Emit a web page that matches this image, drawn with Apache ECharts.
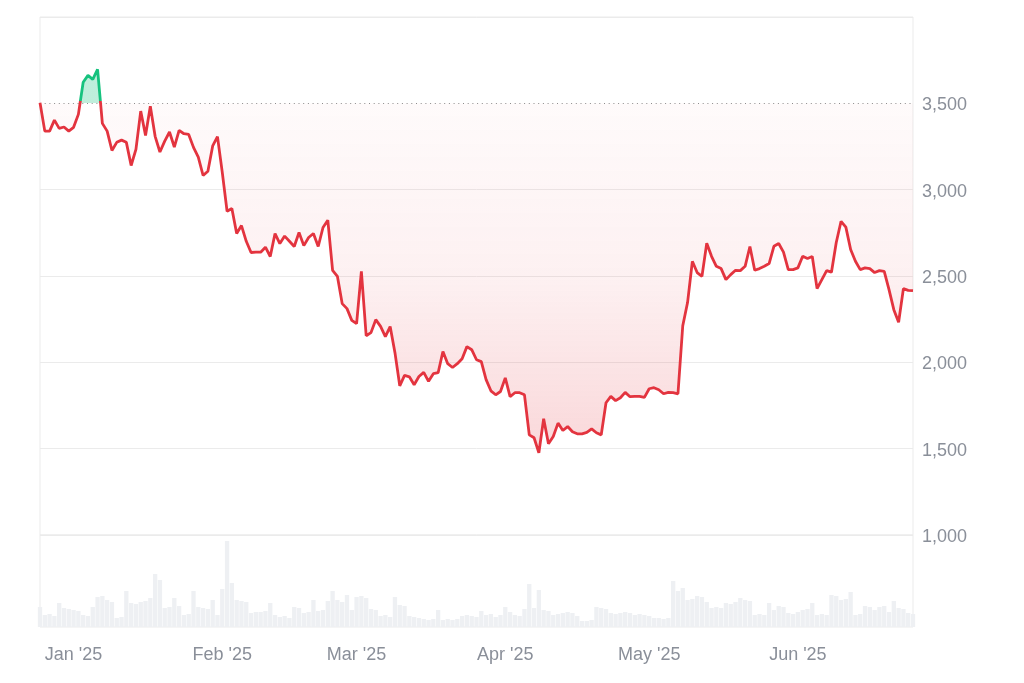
<!DOCTYPE html>
<html><head><meta charset="utf-8">
<script src="https://cdn.jsdelivr.net/npm/echarts@6/dist/echarts.min.js"></script>
<style>html,body{margin:0;padding:0;background:#fff}#c{width:1024px;height:683px}</style>
</head><body><div id="c"></div>
<script>
// Daily ETH price (USD), 2024-12-25 .. 2025-06-25
const prices = [
  3504, 3339, 3339, 3403, 3355, 3363, 3339,
  3361, 3436, 3622, 3662, 3639, 3697, 3384, 3339, 3227, 3274, 3287, 3274, 3140, 3233, 3455, 3314,
  3483, 3309, 3218, 3281, 3334, 3247, 3343, 3324, 3320, 3245, 3189, 3082, 3107, 3253, 3307,
  3100, 2875, 2891, 2746, 2792, 2701, 2636, 2638, 2638, 2667, 2613, 2746, 2688, 2731, 2701, 2671,
  2752, 2676, 2723, 2746, 2671, 2781, 2823, 2532, 2498, 2340, 2311, 2243,
  2224, 2527, 2154, 2172, 2247, 2208, 2149, 2207, 2056, 1864, 1924, 1916, 1870, 1918, 1942, 1890,
  1934, 1940, 2063, 1992, 1970, 1992, 2021, 2091, 2073, 2015, 2004, 1900, 1835, 1812, 1831,
  1910, 1801, 1824, 1824, 1812, 1580, 1563, 1476, 1673, 1528, 1570, 1648, 1605, 1628, 1598, 1586,
  1586, 1594, 1615, 1592, 1580, 1766, 1803, 1778, 1795, 1826, 1801, 1803, 1803, 1797,
  1847, 1853, 1841, 1818, 1826, 1824, 1818, 2212, 2346, 2585, 2520, 2498, 2690, 2614, 2556, 2543,
  2479, 2508, 2533, 2531, 2556, 2671, 2533, 2543, 2556, 2572, 2672, 2688, 2638, 2537, 2537,
  2547, 2614, 2601, 2613, 2427, 2479, 2531, 2522, 2694, 2817, 2783, 2653, 2585, 2537, 2547, 2543,
  2520, 2531, 2527, 2421, 2305, 2232, 2427, 2417, 2415
];
// Daily trading volume (billions USD, estimated)
const volumes = [
  20, 12, 13, 11, 24, 19, 18, 17, 16, 12,
  11, 20, 30, 31, 27, 25, 9, 10, 36, 24,
  23, 25, 26, 29, 53, 47, 19, 20, 29, 21,
  12, 13, 36, 20, 19, 18, 27, 12, 38, 86,
  44, 27, 26, 25, 14, 15, 15, 16, 24, 12,
  10, 11, 9, 20, 19, 14, 15, 27, 16, 17,
  26, 36, 27, 25, 32, 17, 30, 31, 29, 18,
  17, 11, 12, 10, 30, 22, 21, 11, 10, 9,
  8, 7, 8, 17, 7, 8, 7, 8, 11, 12,
  11, 10, 16, 12, 13, 10, 12, 20, 15, 12,
  11, 18, 43, 19, 37, 17, 16, 12, 13, 14,
  15, 14, 11, 6, 6, 7, 20, 19, 18, 14,
  13, 14, 15, 14, 12, 13, 12, 11, 9, 9,
  8, 9, 46, 36, 39, 27, 28, 31, 30, 25,
  19, 20, 19, 24, 23, 25, 29, 27, 26, 12,
  13, 12, 24, 17, 21, 20, 14, 13, 15, 17,
  18, 24, 12, 13, 12, 32, 31, 27, 28, 35,
  12, 13, 21, 20, 17, 20, 21, 15, 26, 19,
  18, 14, 13
];
const baseline = 3500;
const priceTicks = [1000, 1500, 2000, 2500, 3000, 3500];
const monthTicks = ['2025-01-01', '2025-02-01', '2025-03-01', '2025-04-01', '2025-05-01', '2025-06-01'];
const monthLabels = ["Jan '25", "Feb '25", "Mar '25", "Apr '25", "May '25", "Jun '25"];

const dates = [];
(function () {
  const d = new Date(Date.UTC(2024, 11, 25));
  for (let i = 0; i < prices.length; i++) {
    dates.push(d.toISOString().slice(0, 10));
    d.setUTCDate(d.getUTCDate() + 1);
  }
})();

const pMax = Math.max(...prices), pMin = Math.min(...prices);
const f = (pMax - baseline) / (pMax - pMin);
const RED = '#e3343f', GREEN = '#16c27e';
const FONT = '"Liberation Sans", Arial, sans-serif';
const LABEL = '#8a8f99';
const GRIDC = '#ebebeb';

const chart = echarts.init(document.getElementById('c'), null, { renderer: 'canvas' });
chart.setOption({
  animation: false,
  grid: [
    { left: 40, right: 111, top: 17, height: 518, show: true, borderColor: GRIDC, borderWidth: 1 },
    { left: 40, right: 111, top: 535, height: 92, show: true, borderColor: GRIDC, borderWidth: 1 }
  ],
  xAxis: [
    { type: 'category', gridIndex: 0, data: dates, boundaryGap: false, show: false },
    {
      type: 'category', gridIndex: 1, data: dates, boundaryGap: false,
      axisLine: { show: false }, axisTick: { show: false }, splitLine: { show: false },
      axisLabel: {
        interval: (i, v) => monthTicks.includes(v),
        formatter: v => { const k = monthTicks.indexOf(v); return k >= 0 ? monthLabels[k] : ''; },
        fontSize: 18, color: LABEL, margin: 19, fontFamily: FONT
      }
    }
  ],
  yAxis: [
    {
      type: 'value', gridIndex: 0, position: 'right', min: 1000, max: 4000, interval: 500,
      axisLine: { show: false }, axisTick: { show: false },
      axisLabel: {
        formatter: v => priceTicks.includes(v) ? v.toLocaleString('en-US') : '',
        fontSize: 18, color: LABEL, margin: 9, fontFamily: FONT,
        verticalAlign: 'top', lineHeight: 4
      },
      splitLine: { lineStyle: { color: [GRIDC, GRIDC, GRIDC, GRIDC, GRIDC, 'rgba(0,0,0,0)', GRIDC], width: 1 } }
    },
    { type: 'value', gridIndex: 1, min: 0, max: 92, show: false, splitLine: { show: false } }
  ],
  series: [
    {
      type: 'bar', xAxisIndex: 1, yAxisIndex: 1, data: volumes,
      itemStyle: { color: '#eef0f3' }, barCategoryGap: '10%', silent: true
    },
    {
      type: 'line', xAxisIndex: 0, yAxisIndex: 0, data: prices, symbol: 'none', silent: true,
      lineStyle: { width: 0, opacity: 0 }, z: 2,
      areaStyle: {
        origin: baseline,
        color: new echarts.graphic.LinearGradient(0, 0, 0, 1, [
          { offset: 0, color: 'rgba(22,194,126,0.4)' },
          { offset: f, color: 'rgba(22,194,126,0.4)' },
          { offset: f, color: 'rgba(227,52,63,0.03)' },
          { offset: f + (1 - f) * 0.5, color: 'rgba(227,52,63,0.10)' },
          { offset: 1, color: 'rgba(227,52,63,0.28)' }
        ])
      },
      markLine: {
        silent: true, symbol: ['none', 'none'], label: { show: false },
        lineStyle: { color: '#8c8c8c', type: [1, 3.7], width: 1 },
        emphasis: { disabled: true },
        data: [{ yAxis: baseline }]
      }
    },
    {
      type: 'line', xAxisIndex: 0, yAxisIndex: 0, data: prices, symbol: 'none', silent: true, z: 5,
      lineStyle: {
        width: 2.8,
        color: new echarts.graphic.LinearGradient(0, 0, 0, 1, [
          { offset: 0, color: GREEN },
          { offset: f, color: GREEN },
          { offset: f, color: RED },
          { offset: 1, color: RED }
        ])
      }
    }
  ]
});
</script>
</body></html>
